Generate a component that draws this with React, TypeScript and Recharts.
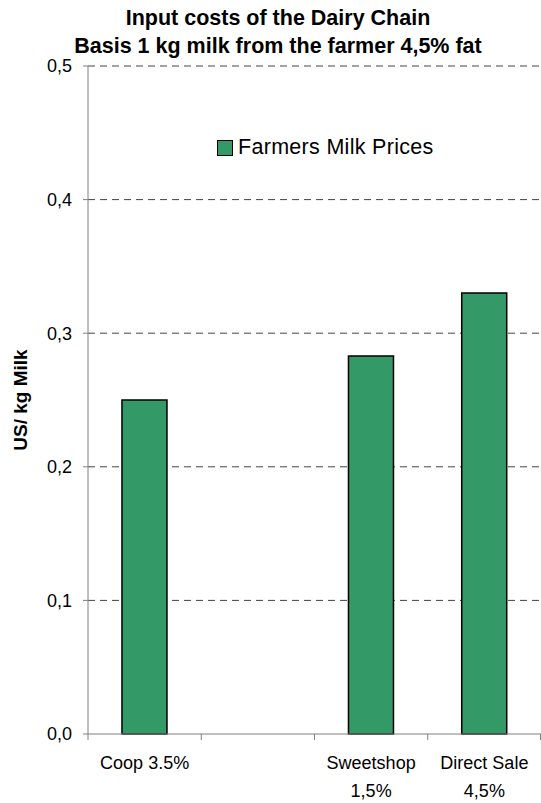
import React from 'react';
import { BarChart, Bar, XAxis, YAxis, CartesianGrid } from 'recharts';

const categories = ['Coop 3.5%', '', 'Sweetshop\n1,5%', 'Direct Sale\n4,5%'];
const milkPrices = [0.25, null, 0.283, 0.33];
const yTicks = [0, 0.1, 0.2, 0.3, 0.4, 0.5];

const data = categories.map((name, i) => ({ name, price: milkPrices[i] }));

const FONT = '"Liberation Sans", Arial, sans-serif';
const GREEN = '#339966';

// category label plus Excel-style tick marks on the category boundaries
function CategoryTick(props: any) {
  const { x, y, payload, width, visibleTicksCount } = props;
  const step = width / visibleTicksCount;
  const axisY = y - 8;
  const lines = String(payload.value).split('\n');
  return (
    <g>
      <line x1={x - step / 2} x2={x - step / 2} y1={axisY} y2={axisY + 6} stroke="#808080" />
      {payload.index === visibleTicksCount - 1 && (
        <line x1={x + step / 2 - 0.5} x2={x + step / 2 - 0.5} y1={axisY} y2={axisY + 6} stroke="#808080" />
      )}
      {lines.map((line, i) => (
        <text key={i} x={x} y={y} dy={27 + i * 28} textAnchor="middle" fontSize={18} fill="#000" fontFamily={FONT}>
          {line}
        </text>
      ))}
    </g>
  );
}

function YLabel(props: any) {
  const { viewBox } = props;
  const cy = viewBox.y + viewBox.height / 2;
  return (
    <text x={20} y={cy} transform={`rotate(-90, 20, ${cy})`} textAnchor="middle" dominantBaseline="central"
      fontSize={19} fontWeight="bold" fill="#000" fontFamily={FONT}>
      US/ kg Milk
    </text>
  );
}

export default function App() {
  return (
    <div style={{ position: 'absolute', left: 0, top: 0, width: 541, height: 803, background: '#fff', fontFamily: FONT }}>
      <style>{'body{margin:0}'}</style>
      <div style={{ position: 'absolute', left: 0, width: 556, top: 4, textAlign: 'center', fontWeight: 'bold', fontSize: 21.5, lineHeight: '28px', color: '#000' }}>
        <div>Input costs of the Dairy Chain</div>
        <div>Basis 1 kg milk from the farmer 4,5% fat</div>
      </div>
      <div style={{ position: 'absolute', left: 217, top: 135, display: 'flex', alignItems: 'center', fontSize: 21.5, letterSpacing: 0.3, color: '#000', zIndex: 2 }}>
        <div style={{ width: 14, height: 14, background: GREEN, border: '1px solid #000', marginRight: 5 }} />
        <span>Farmers Milk Prices</span>
      </div>
      <BarChart width={541} height={803} data={data} margin={{ top: 66, right: 0, bottom: 0, left: 0 }} barCategoryGap="30%">
        <CartesianGrid vertical={false} stroke="#444" strokeDasharray="7 5" horizontalValues={[0.1, 0.2, 0.3, 0.4, 0.5]} />
        <XAxis dataKey="name" tick={<CategoryTick />} tickLine={false} axisLine={{ stroke: '#808080' }} height={69} interval={0} />
        <YAxis domain={[0, 0.5]} ticks={yTicks} width={88} tickSize={5} tickMargin={11}
          tickFormatter={(v: number) => v.toFixed(1).replace('.', ',')}
          tick={{ fontSize: 18, fill: '#000', fontFamily: FONT }}
          axisLine={{ stroke: '#808080' }} tickLine={{ stroke: '#808080' }}
          label={<YLabel />} />
        <Bar dataKey="price" name="Farmers Milk Prices" fill={GREEN} stroke="#000" strokeWidth={1.5} isAnimationActive={false} />
      </BarChart>
    </div>
  );
}
